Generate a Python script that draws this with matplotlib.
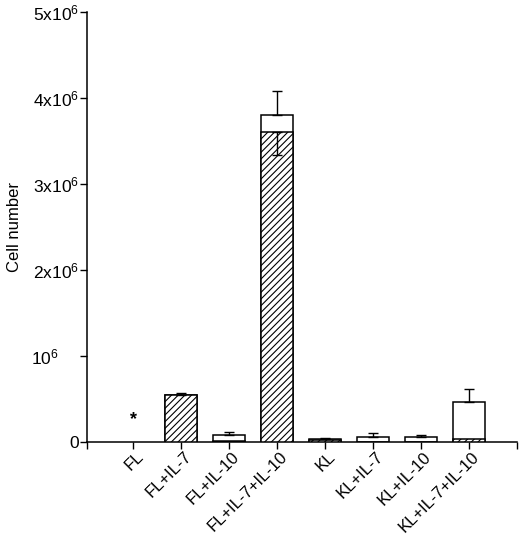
import matplotlib
matplotlib.use("Agg")
import matplotlib.pyplot as plt
import matplotlib.transforms as mtransforms
import numpy as np

# --- data (cell numbers) ---
labels = ["FL", "FL+IL-7", "FL+IL-10", "FL+IL-7+IL-10",
          "KL", "KL+IL-7", "KL+IL-10", "KL+IL-7+IL-10"]
total = [0.0, 0.553e6, 0.084e6, 3.80e6, 0.037e6, 0.068e6, 0.060e6, 0.47e6]
hatched = [0.0, 0.553e6, 0.015e6, 3.61e6, 0.030e6, 0.0, 0.0, 0.04e6]
total_err = [0.0, 0.022e6, 0.036e6, 0.28e6, 0.013e6, 0.039e6, 0.024e6, 0.156e6]
hatched_err_down = [0.0, 0.0, 0.0, 0.27e6, 0.0, 0.0, 0.0, 0.0]
star_pos = ("FL", 0.27e6)

ytick_vals = [0, 1e6, 2e6, 3e6, 4e6, 5e6]
ytick_labels = ["0", "10$^6$     ", "2x10$^6$", "3x10$^6$", "4x10$^6$", "5x10$^6$"]

plt.rcParams["font.family"] = ["Liberation Sans", "DejaVu Sans"]
plt.rcParams["mathtext.fontset"] = "custom"
plt.rcParams["mathtext.rm"] = "Liberation Sans"
plt.rcParams["mathtext.it"] = "Liberation Sans"
plt.rcParams["hatch.linewidth"] = 0.8

fig = plt.figure(figsize=(5.2, 5.35), dpi=100)
ax = fig.add_axes([0.1673, 0.1729, 0.8269, 0.8047])

x = np.arange(len(labels))
w = 0.66
total = np.array(total)
hatched = np.array(hatched)
has_bar = total > 0
has_hatch = hatched > 0

# white (total) bars, hatched lower part drawn on top
ax.bar(x[has_bar], total[has_bar], width=w, color="white", edgecolor="black",
       linewidth=1.1, zorder=2)
ax.bar(x[has_hatch], hatched[has_hatch], width=w, color="white", edgecolor="black",
       hatch="/////", linewidth=1.1, zorder=3)

# error bars: upward on totals, downward on the hatched part
up = np.array(total_err)
ax.errorbar(x[has_bar], total[has_bar], yerr=[np.zeros(has_bar.sum()), up[has_bar]],
            fmt="none", ecolor="black", elinewidth=1.0, capsize=3.3, capthick=1.0,
            zorder=4)
down = np.array(hatched_err_down)
m = down > 0
ax.errorbar(x[m], hatched[m], yerr=[down[m], np.zeros(m.sum())], fmt="none",
            ecolor="black", elinewidth=1.0, capsize=3.3, capthick=1.0, zorder=4)

ax.text(labels.index(star_pos[0]), star_pos[1], "*", ha="center", va="center",
        fontsize=13, fontweight="bold")

ax.set_xlim(-0.96, 8.0)
ax.set_ylim(0, 5e6)

ax.spines["top"].set_visible(False)
ax.spines["right"].set_visible(False)
ax.spines["left"].set_linewidth(1.1)
ax.spines["bottom"].set_linewidth(1.1)

ax.set_yticks(ytick_vals)
ax.set_yticklabels(ytick_labels, fontsize=12.5)
ax.set_xticks(x)
ax.set_xticks([-0.96, 8.0], minor=True)
ax.tick_params(axis="both", which="both", direction="out", length=5, width=1.0)
ax.tick_params(axis="y", pad=1)

offset = mtransforms.ScaledTranslation(8 / 100, 0, fig.dpi_scale_trans)
ax.set_xticklabels(labels, rotation=45, ha="right", va="center",
                   rotation_mode="anchor", fontsize=12)
for lbl in ax.get_xticklabels():
    lbl.set_transform(lbl.get_transform() + offset)

ax.set_ylabel("Cell number", fontsize=12)
ax.yaxis.set_label_coords(-0.15, 0.5)

fig.savefig("out.png", dpi=100)
